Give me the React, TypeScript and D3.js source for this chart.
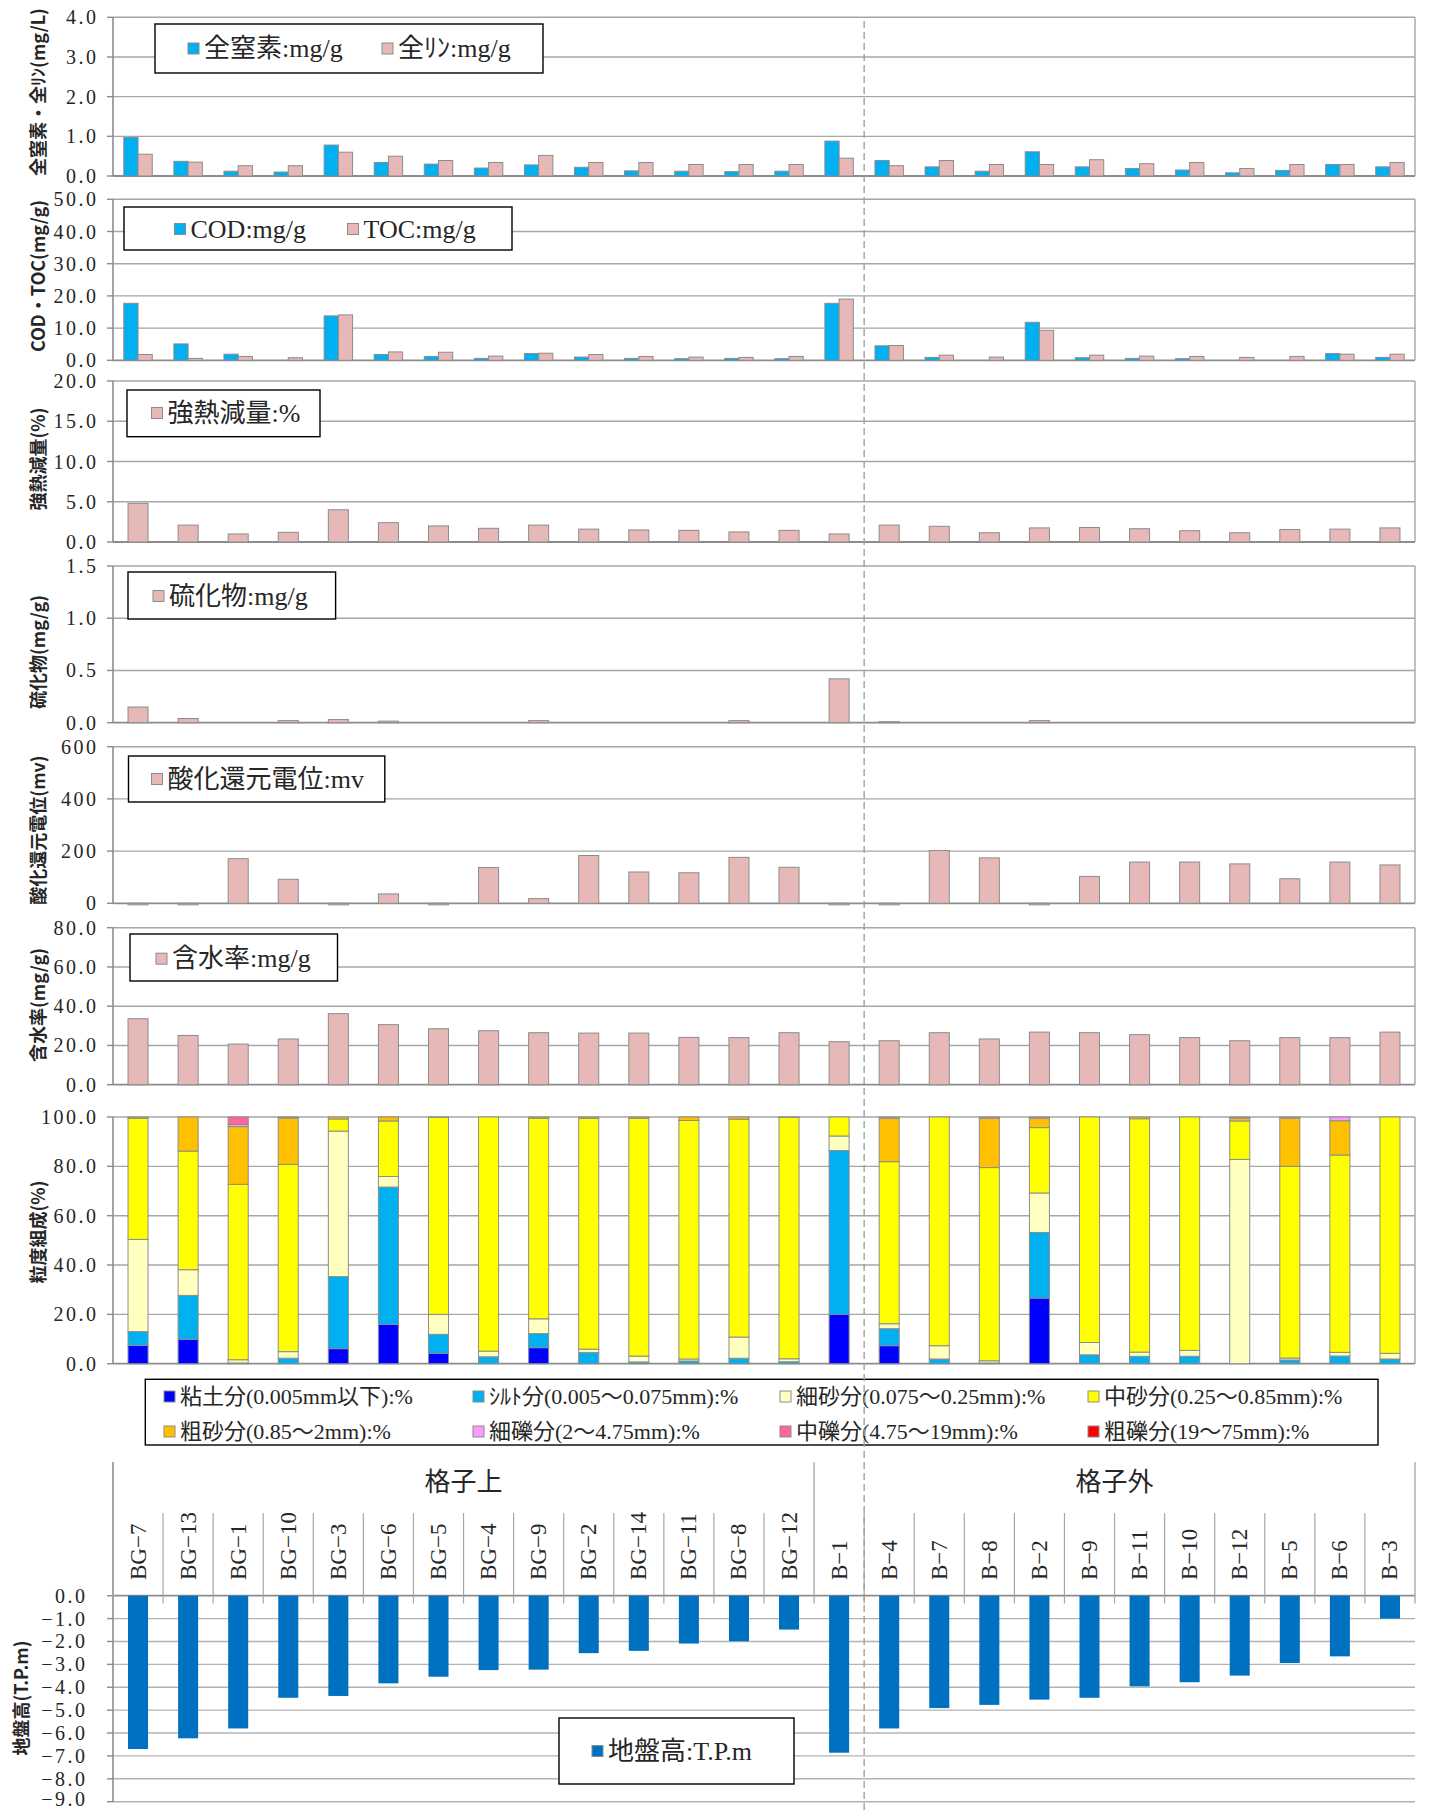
import React from 'react';
import * as d3 from 'd3';

// 調査地点（格子上 14 地点、格子外 12 地点）
const sites = [
  'BG−7', 'BG−13', 'BG−1', 'BG−10', 'BG−3', 'BG−6', 'BG−5', 'BG−4', 'BG−9', 'BG−2', 'BG−14', 'BG−11', 'BG−8', 'BG−12',
  'B−1', 'B−4', 'B−7', 'B−8', 'B−2', 'B−9', 'B−11', 'B−10', 'B−12', 'B−5', 'B−6', 'B−3',
];
const groupNames = ['格子上', '格子外'];
const groupSizes = [14, 12];

// 全窒素・全リン (mg/g)
const totalN = [0.97, 0.37, 0.12, 0.10, 0.78, 0.34, 0.30, 0.20, 0.28, 0.22, 0.13, 0.12, 0.11, 0.12, 0.88, 0.39, 0.23, 0.12, 0.61, 0.23, 0.19, 0.15, 0.08, 0.14, 0.29, 0.23];
const totalP = [0.55, 0.35, 0.26, 0.26, 0.60, 0.50, 0.39, 0.34, 0.52, 0.34, 0.34, 0.29, 0.29, 0.29, 0.45, 0.26, 0.39, 0.29, 0.29, 0.41, 0.31, 0.34, 0.19, 0.29, 0.29, 0.34];
// COD・TOC (mg/g)
const cod = [17.7, 5.1, 1.9, 0, 13.8, 1.8, 1.2, 0.6, 2.1, 1.0, 0.6, 0.5, 0.6, 0.5, 17.7, 4.5, 0.9, 0, 11.8, 0.8, 0.6, 0.5, 0, 0, 2.1, 0.9];
const toc = [1.8, 0.6, 1.2, 0.8, 14.1, 2.6, 2.5, 1.3, 2.2, 1.8, 1.2, 1.0, 0.9, 1.2, 19.0, 4.6, 1.6, 1.0, 9.3, 1.6, 1.3, 1.2, 0.9, 1.2, 1.9, 1.9];
// 強熱減量 (%)
const ignitionLoss = [4.8, 2.1, 1.0, 1.2, 4.0, 2.4, 2.0, 1.7, 2.1, 1.6, 1.5, 1.45, 1.25, 1.45, 1.0, 2.1, 1.95, 1.15, 1.75, 1.8, 1.65, 1.4, 1.15, 1.55, 1.6, 1.75];
// 硫化物 (mg/g)
const sulfide = [0.15, 0.04, 0, 0.02, 0.03, 0.015, 0, 0, 0.02, 0, 0, 0, 0.02, 0, 0.42, 0.01, 0, 0, 0.02, 0, 0, 0, 0, 0, 0, 0];
// 酸化還元電位 (mV)
const orp = [-6, -6, 171, 92, -6, 36, -6, 137, 18, 183, 120, 117, 176, 138, -6, -6, 202, 174, -6, 103, 158, 158, 151, 94, 158, 147];
// 含水率 (mg/g)
const moisture = [33.6, 25.1, 20.7, 23.3, 36.2, 30.6, 28.5, 27.5, 26.5, 26.3, 26.3, 24.1, 24.0, 26.5, 21.9, 22.4, 26.5, 23.3, 26.8, 26.5, 25.5, 24.0, 22.4, 24.0, 24.0, 26.8];

// 粒度組成 (%)
const clay = [7.4, 9.9, 0, 0, 6.1, 15.9, 4.2, 0, 6.5, 0, 0, 0, 0, 0, 20.0, 7.3, 0, 0, 26.6, 0, 0, 0, 0, 0, 0, 0];
const silt = [5.6, 17.8, 0.3, 2.2, 29.2, 55.7, 7.7, 2.8, 5.7, 4.5, 0.7, 1.1, 2.2, 0.8, 66.4, 6.9, 1.9, 0.3, 26.6, 3.6, 3.0, 3.0, 0, 1.5, 3.1, 1.9];
const fineSand = [37.4, 10.4, 1.3, 2.7, 59.0, 4.3, 8.1, 2.3, 6.0, 1.4, 2.4, 0.8, 8.6, 1.2, 5.9, 2.0, 5.4, 0.9, 16.0, 5.0, 1.7, 2.4, 82.8, 0.8, 1.5, 2.3];
const mediumSand = [49.1, 48.1, 71.1, 75.9, 4.9, 22.5, 79.9, 94.9, 81.3, 93.6, 96.4, 96.7, 88.3, 97.9, 7.7, 65.7, 92.7, 78.3, 26.5, 91.4, 94.6, 94.6, 15.6, 77.7, 80.0, 95.8];
const coarseSand = [0.5, 13.8, 23.4, 18.8, 0.8, 1.6, 0.1, 0, 0.5, 0.5, 0.5, 1.4, 0.9, 0.1, 0, 17.6, 0, 20.0, 3.8, 0, 0.7, 0, 1.1, 19.5, 13.9, 0];
const fineGravel = [0, 0, 0.9, 0.4, 0, 0, 0, 0, 0, 0, 0, 0, 0, 0, 0, 0.5, 0, 0.5, 0.5, 0, 0, 0, 0.5, 0.5, 1.5, 0];
const mediumGravel = [0, 0, 3.0, 0, 0, 0, 0, 0, 0, 0, 0, 0, 0, 0, 0, 0, 0, 0, 0, 0, 0, 0, 0, 0, 0, 0];
const coarseGravel = [0, 0, 0, 0, 0, 0, 0, 0, 0, 0, 0, 0, 0, 0, 0, 0, 0, 0, 0, 0, 0, 0, 0, 0, 0, 0];
const grainLabels = [
  '粘土分(0.005mm以下):%', 'ｼﾙﾄ分(0.005～0.075mm):%', '細砂分(0.075～0.25mm):%', '中砂分(0.25～0.85mm):%',
  '粗砂分(0.85～2mm):%', '細礫分(2～4.75mm):%', '中礫分(4.75～19mm):%', '粗礫分(19～75mm):%',
];
const grainColors = ['#0000FF', '#00B0F0', '#FFFFC0', '#FFFF00', '#FFC000', '#FF99FF', '#FF6699', '#FF0000'];

// 地盤高 (T.P.m)
const groundHeight = [-6.70, -6.23, -5.80, -4.46, -4.38, -3.83, -3.54, -3.25, -3.23, -2.51, -2.41, -2.09, -1.99, -1.48, -6.86, -5.80, -4.91, -4.77, -4.54, -4.46, -3.96, -3.78, -3.49, -2.94, -2.65, -1.00];

// 軸目盛
const nutrientTicks = [0, 1, 2, 3, 4];
const organicTicks = [0, 10, 20, 30, 40, 50];
const ignitionTicks = [0, 5, 10, 15, 20];
const sulfideTicks = [0, 0.5, 1.0, 1.5];
const orpTicks = [0, 200, 400, 600];
const moistureTicks = [0, 20, 40, 60, 80];
const grainTicks = [0, 20, 40, 60, 80, 100];
const heightTicks = [0, -1, -2, -3, -4, -5, -6, -7, -8, -9];

const W = 1430;
const H = 1811;
const X0 = 113;
const X1 = 1415;
const BLUE = '#00B0F0';
const PINK = '#E6B9B8';
const EDGE = '#8c8c8c';
const GRID = '#a6a6a6';
const INK = '#262626';
const SERIF = "'Liberation Serif','Noto Sans CJK JP',serif";
const GOTHIC = "'Noto Sans CJK JP',sans-serif";
const TICK_SIZE = 20;
const TICK_SPACING = 2.5;

const xBand = d3.scaleBand<string>().domain(sites).range([X0, X1]);
const xSingle = d3.scaleBand<string>().domain(sites).range([X0, X1]).paddingInner(0.6).paddingOuter(0.3);
const xPair = d3.scaleBand<string>().domain(['0', '1']).range([0, xBand.bandwidth()]).paddingOuter(0.76);

type Scale = d3.ScaleLinear<number, number>;

function ValueAxis(props: {
  y: Scale; ticks: number[]; fmt: string; labelEnd: number; top: number; bottom: number; rightBorder: boolean; zero: number; gridColor?: string;
}) {
  const { y, ticks, fmt, labelEnd, top, bottom, rightBorder, zero, gridColor } = props;
  const f = d3.format(fmt);
  return (
    <g>
      {ticks.map((t) => (
        <line key={'g' + t} x1={X0} x2={X1} y1={y(t)} y2={y(t)}
          stroke={t === zero ? EDGE : gridColor || GRID} strokeWidth={t === zero ? 1.8 : 1.4} />
      ))}
      {rightBorder && <line x1={X1} x2={X1} y1={top} y2={bottom} stroke={GRID} strokeWidth={1.4} />}
      <line x1={X0} x2={X0} y1={top} y2={bottom} stroke={EDGE} strokeWidth={1.6} />
      {ticks.map((t) => (
        <line key={'t' + t} x1={X0 - 6} x2={X0} y1={y(t)} y2={y(t)} stroke={EDGE} strokeWidth={1.4} />
      ))}
      {ticks.map((t) => (
        <text key={'l' + t} x={labelEnd + TICK_SPACING} y={Math.min(y(t), H - 12)} textAnchor="end" dominantBaseline="central"
          fontSize={TICK_SIZE} letterSpacing={TICK_SPACING} fontFamily={SERIF} fill={INK}>{f(t)}</text>
      ))}
    </g>
  );
}

function AxisTitle({ x, y, text }: { x: number; y: number; text: string }) {
  return (
    <text transform={`translate(${x},${y}) rotate(-90)`} textAnchor="middle" dominantBaseline="central"
      fontSize={18} fontWeight="bold" fontFamily={GOTHIC} fill={INK}>{text}</text>
  );
}

type LegendItem = { label: string; color: string; sx: number; cy: number };

function Legend({ box, items, fontSize }: { box: number[]; items: LegendItem[]; fontSize: number }) {
  const [bx0, by0, bx1, by1] = box;
  return (
    <g>
      <rect x={bx0} y={by0} width={bx1 - bx0} height={by1 - by0} fill="#fff" stroke="#000" strokeWidth={1.4} />
      {items.map((it) => (
        <g key={it.label}>
          <rect x={it.sx} y={it.cy - 5.5} width={11} height={11} fill={it.color} stroke={EDGE} strokeWidth={1} />
          <text x={it.sx + 16} y={it.cy} dominantBaseline="central" fontSize={fontSize} fontFamily={SERIF} fill={INK}>
            {it.label}
          </text>
        </g>
      ))}
    </g>
  );
}

type Series = { values: number[]; color: string; label: string };

type PanelSpec = {
  top: number; bottom: number; max: number; ticks: number[]; fmt: string; title: string; titleY: number;
  series: Series[]; legendBox: number[]; legendX: number[]; legendY: number;
};

function BarPanel({ spec }: { spec: PanelSpec }) {
  const y = d3.scaleLinear().domain([0, spec.max]).range([spec.bottom, spec.top]);
  const paired = spec.series.length === 2;
  return (
    <g>
      <ValueAxis y={y} ticks={spec.ticks} fmt={spec.fmt} labelEnd={96} top={spec.top} bottom={spec.bottom} rightBorder zero={0} />
      {spec.series.map((s, si) =>
        s.values.map((v, i) => {
          if (v === 0) return null;
          const site = sites[i];
          const bx = paired ? (xBand(site) as number) + (xPair(String(si)) as number) : (xSingle(site) as number);
          const bw = paired ? xPair.bandwidth() : xSingle.bandwidth();
          const y0 = y(0);
          const yv = y(v);
          return (
            <rect key={si + '-' + i} x={bx} y={Math.min(y0, yv)} width={bw} height={Math.abs(y0 - yv)}
              fill={s.color} stroke={EDGE} strokeWidth={1} />
          );
        })
      )}
      <AxisTitle x={37} y={spec.titleY} text={spec.title} />
      <Legend box={spec.legendBox} fontSize={26}
        items={spec.series.map((s, si) => ({ label: s.label, color: s.color, sx: spec.legendX[si], cy: spec.legendY }))} />
    </g>
  );
}

const panels: PanelSpec[] = [
  {
    top: 17.3, bottom: 176, max: 4, ticks: nutrientTicks, fmt: '.1f', title: '全窒素・全ﾘﾝ(mg/L)', titleY: 92,
    series: [{ values: totalN, color: BLUE, label: '全窒素:mg/g' }, { values: totalP, color: PINK, label: '全ﾘﾝ:mg/g' }],
    legendBox: [155, 24, 543, 73], legendX: [188, 382], legendY: 48.5,
  },
  {
    top: 199.3, bottom: 360.3, max: 50, ticks: organicTicks, fmt: '.1f', title: 'COD・TOC(mg/g)', titleY: 276,
    series: [{ values: cod, color: BLUE, label: 'COD:mg/g' }, { values: toc, color: PINK, label: 'TOC:mg/g' }],
    legendBox: [124, 207, 512, 250], legendX: [174.5, 347.5], legendY: 229,
  },
  {
    top: 381, bottom: 542, max: 20, ticks: ignitionTicks, fmt: '.1f', title: '強熱減量(%)', titleY: 459,
    series: [{ values: ignitionLoss, color: PINK, label: '強熱減量:%' }],
    legendBox: [127, 390, 320, 436.7], legendX: [151.5], legendY: 413,
  },
  {
    top: 566, bottom: 722.7, max: 1.5, ticks: sulfideTicks, fmt: '.1f', title: '硫化物(mg/g)', titleY: 652,
    series: [{ values: sulfide, color: PINK, label: '硫化物:mg/g' }],
    legendBox: [128, 572, 335.6, 619], legendX: [153], legendY: 596,
  },
  {
    top: 746.7, bottom: 903.3, max: 600, ticks: orpTicks, fmt: 'd', title: '酸化還元電位(mv)', titleY: 830,
    series: [{ values: orp, color: PINK, label: '酸化還元電位:mv' }],
    legendBox: [128.5, 756, 384.8, 802], legendX: [151.5], legendY: 779,
  },
  {
    top: 927.7, bottom: 1084.7, max: 80, ticks: moistureTicks, fmt: '.1f', title: '含水率(mg/g)', titleY: 1005,
    series: [{ values: moisture, color: PINK, label: '含水率:mg/g' }],
    legendBox: [130, 934, 337.5, 981], legendX: [156], legendY: 958.7,
  },
];

function GrainPanel() {
  const top = 1117;
  const bottom = 1363.7;
  const y = d3.scaleLinear().domain([0, 100]).range([bottom, top]);
  const layers = [clay, silt, fineSand, mediumSand, coarseSand, fineGravel, mediumGravel, coarseGravel];
  const keys = layers.map((_, k) => 'k' + k);
  const rows = sites.map((site, i) => {
    const r: Record<string, number | string> = { site };
    layers.forEach((arr, k) => { r['k' + k] = arr[i]; });
    return r;
  });
  const stacked = d3.stack<Record<string, number | string>>().keys(keys)(rows as any);
  const legendCols = [164, 473, 780, 1088];
  const legendRows = [1396.5, 1431.5];
  return (
    <g>
      <ValueAxis y={y} ticks={grainTicks} fmt=".1f" labelEnd={96} top={top} bottom={bottom} rightBorder zero={0} />
      {stacked.map((layer, k) =>
        layer.map((d, i) => {
          const h = y(d[0]) - y(d[1]);
          if (h <= 0) return null;
          return (
            <rect key={k + '-' + i} x={xSingle(sites[i]) as number} y={y(d[1])} width={xSingle.bandwidth()} height={h}
              fill={grainColors[k]} stroke={EDGE} strokeWidth={1} />
          );
        })
      )}
      <AxisTitle x={37} y={1232} text="粒度組成(%)" />
      <Legend box={[145.3, 1379.3, 1378, 1445]} fontSize={22}
        items={grainLabels.map((label, k) => ({ label, color: grainColors[k], sx: legendCols[k % 4], cy: legendRows[Math.floor(k / 4)] }))} />
    </g>
  );
}

function HeightPanel() {
  const zeroY = 1595.7;
  const bottom = 1801.7;
  const y = d3.scaleLinear().domain([0, -9]).range([zeroY, bottom]);
  const headTop = 1462;
  const catTop = 1513;
  const tickBottom = 1603.5;
  const bw = xSingle.bandwidth();
  const groupEdges: number[] = [];
  let acc = 0;
  groupSizes.forEach((n) => { groupEdges.push(acc); acc += n; });
  groupEdges.push(acc);
  const edgeX = (i: number) => (i >= sites.length ? X1 : (xBand(sites[i]) as number));
  return (
    <g>
      <ValueAxis y={y} ticks={heightTicks} fmt=".1f" labelEnd={85} top={headTop} bottom={bottom} rightBorder={false} zero={0} gridColor="#b3b3b3" />
      {sites.map((site, i) => {
        if (groupEdges.includes(i)) return null;
        const lx = xBand(site) as number;
        return <line key={'c' + i} x1={lx} x2={lx} y1={catTop} y2={tickBottom} stroke={GRID} strokeWidth={1.2} />;
      })}
      {groupEdges.map((gi) => (
        <line key={'e' + gi} x1={edgeX(gi)} x2={edgeX(gi)} y1={headTop} y2={tickBottom} stroke={GRID} strokeWidth={1.3} />
      ))}
      {groupNames.map((name, g) => (
        <text key={name} x={(edgeX(groupEdges[g]) + edgeX(groupEdges[g + 1])) / 2} y={1482} textAnchor="middle"
          dominantBaseline="central" fontSize={26} fontFamily={SERIF} fill={INK}>{name}</text>
      ))}
      {sites.map((site) => {
        const cx = (xBand(site) as number) + xBand.bandwidth() / 2;
        return (
          <text key={'s' + site} transform={`translate(${cx},1580) rotate(-90)`} dominantBaseline="central"
            fontSize={23} fontFamily={SERIF} fill={INK}>{site}</text>
        );
      })}
      {groundHeight.map((v, i) => (
        <rect key={'h' + i} x={xSingle(sites[i]) as number} y={y(0)} width={bw} height={y(v) - y(0)} fill="#0070C0" />
      ))}
      <AxisTitle x={19.5} y={1698} text="地盤高(T.P.m)" />
      <Legend box={[559, 1718, 794, 1784]} fontSize={26} items={[{ label: '地盤高:T.P.m', color: '#0070C0', sx: 592, cy: 1751 }]} />
    </g>
  );
}

export default function App() {
  const splitX = xBand(sites[15]) as number;
  return (
    <svg width={W} height={H} viewBox={`0 0 ${W} ${H}`} style={{ position: 'absolute', left: 0, top: 0, background: '#fff' }}>
      <rect x={0} y={0} width={W} height={H} fill="#fff" />
      {panels.map((p) => <BarPanel key={p.title} spec={p} />)}
      <GrainPanel />
      <HeightPanel />
      <line x1={splitX} x2={splitX} y1={21} y2={H} stroke="#a0a0a0" strokeWidth={1.4} strokeDasharray="7 4" />
    </svg>
  );
}
